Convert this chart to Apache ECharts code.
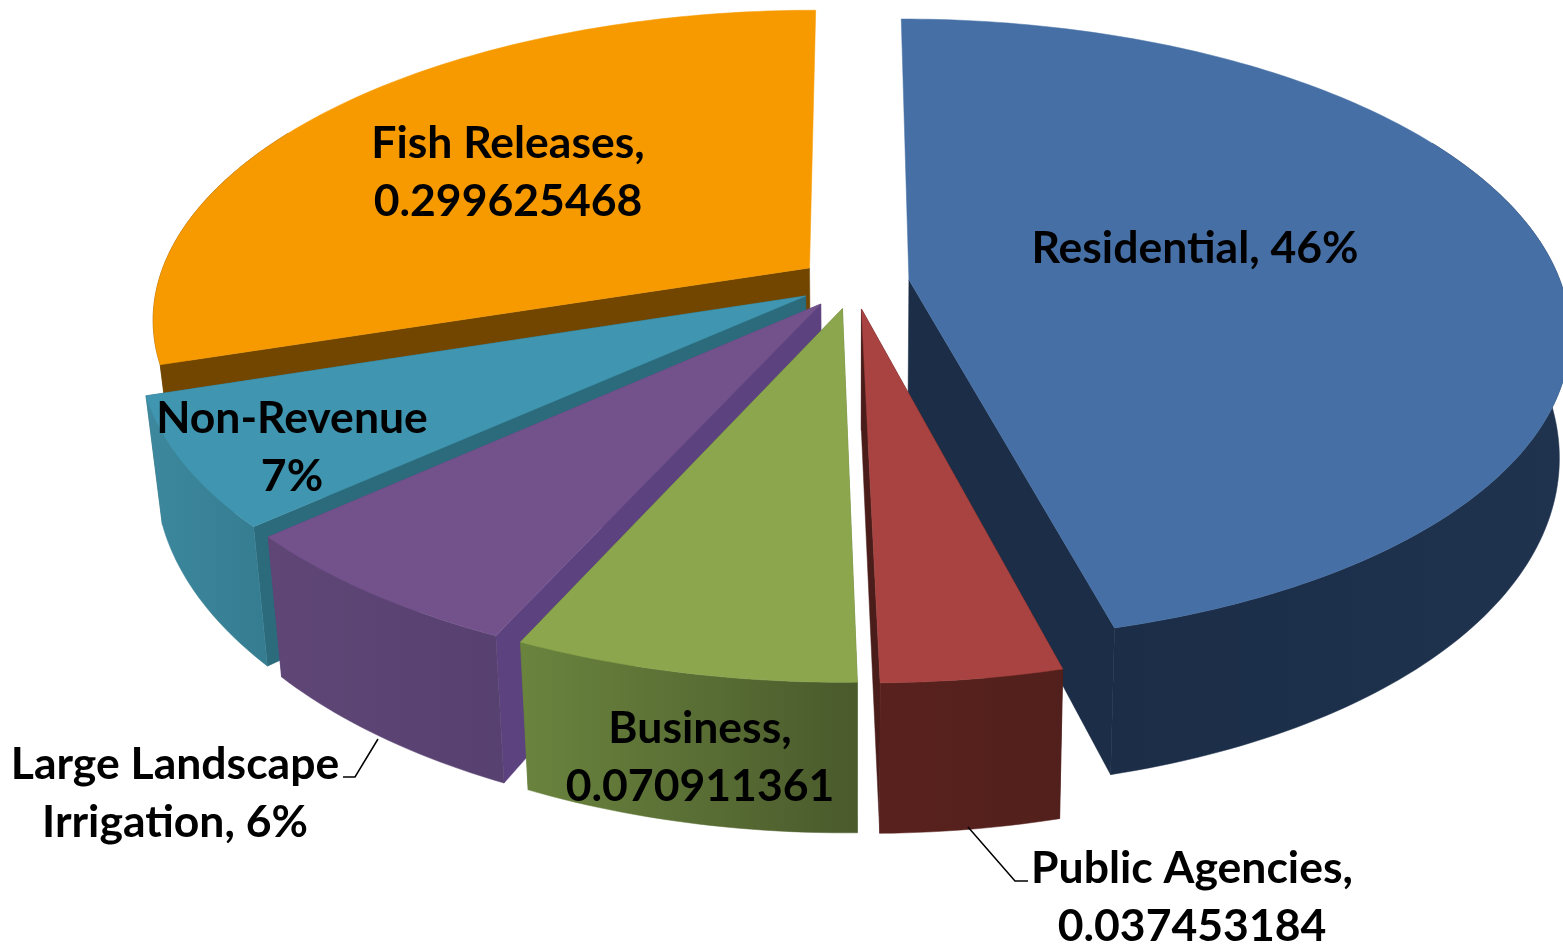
<!DOCTYPE html>
<html>
<head>
<meta charset="utf-8">
<title>Water use by category</title>
<script src="https://cdn.jsdelivr.net/npm/echarts@6/dist/echarts.min.js"></script>
<style>
  html, body { margin: 0; padding: 0; background: #fff; overflow: hidden; }
  #chart { width: 1563px; height: 946px; }
</style>
</head>
<body>
<div id="chart"></div>
<script>
// data, clockwise from 12 o'clock
const categories = ["Residential", "Public Agencies", "Business", "Large Landscape Irrigation", "Non-Revenue", "Fish Releases"];
const shares = [0.46, 0.037453184, 0.070911361, 0.065, 0.0665, 0.299625468];
const labelTexts = [
  "Residential, 46%",
  "Public Agencies,\n0.037453184",
  "Business,\n0.070911361",
  "Large Landscape\nIrrigation, 6%",
  "Non-Revenue\n7%",
  "Fish Releases,\n0.299625468",
];

// colours per slice
const topColors = ["#4670a5", "#a84341", "#8ba64d", "#73528c", "#4096b0", "#f79a00"];
const wallColors = [
  ["#1b2d47", "#1f334f"],
  ["#59211e", "#52201c"],
  ["#6a843e", "#4a5a2c"],
  ["#5f4676", "#574170"],
  ["#3d889e", "#357c90"],
  ["#734600", "#734600"],
];
const cutColors = ["#1b2d47", "#4a1c1a", "#5d7636", "#5c437f", "#2b6b7c", "#734600"];

// label layout
const labelCenters = [[1195, 249], [1192, 898], [700, 758], [175, 794], [292, 448], [508, 173]];
const leaders = {
  1: [[968, 827], [1015, 881], [1028, 881]],
  3: [[343, 777], [355, 777], [378, 739]],
};

// projection of the tilted pie
const CX = 854, CY = 283;
const RX = 652, RY = 304;
const PERSPECTIVE = 0.162;
const FRONT_SHIFT = 5;
const EXPLODE = 0.085;
const DEPTH_BASE = 118, DEPTH_FRONT = 30;
const SHRINK_LEFT = 0.977, SHRINK_RIGHT = 0.985;

const total = shares.reduce((a, b) => a + b, 0);

const project = (u, v) => {
  const s = 1 / (1 - PERSPECTIVE * v);
  const shift = v > 0 ? FRONT_SHIFT * v * v : 0;
  return { x: CX + RX * u * s + shift, y: CY + RY * v * s, v };
};
const drop = (p) => [
  CX + (p.x - CX) * (p.x < CX ? SHRINK_LEFT : SHRINK_RIGHT),
  p.y + DEPTH_BASE + DEPTH_FRONT * p.v,
];
const xy = (p) => [p.x, p.y];

// start and end angle of each slice
let cum = 0;
const slices = shares.map((value, i) => {
  const start = (cum / total) * Math.PI * 2;
  cum += value;
  const end = (cum / total) * Math.PI * 2;
  return { index: i, start, end, mid: (start + end) / 2 };
});

// paint the slices from back to front
const drawOrder = slices.slice().sort((a, b) => Math.cos(b.mid) - Math.cos(a.mid)).map((s) => s.index);

const renderSlice = (params, api) => {
  const s = slices[api.value(0)];
  const ox = EXPLODE * Math.sin(s.mid);
  const oy = -EXPLODE * Math.cos(s.mid);
  const apex = project(ox, oy);
  const rim = [];
  const steps = Math.max(6, Math.ceil((s.end - s.start) / (Math.PI / 180)));
  for (let k = 0; k <= steps; k++) {
    const t = s.start + ((s.end - s.start) * k) / steps;
    rim.push(project(ox + Math.sin(t), oy - Math.cos(t)));
  }
  const first = rim[0];
  const last = rim[rim.length - 1];
  const i = s.index;
  const wall = new echarts.graphic.LinearGradient(0, 0, 1, 0, [
    { offset: 0, color: wallColors[i][0] },
    { offset: 1, color: wallColors[i][1] },
  ]);
  const poly = (points, fill) => ({
    type: "polygon",
    shape: { points },
    style: { fill, stroke: fill, lineWidth: 0.5 },
    silent: true,
  });
  const children = [];
  // faces pointing at the back of the pie stay hidden
  if (Math.cos(s.start) < 0.9) children.push(poly([xy(apex), xy(first), drop(first), drop(apex)], cutColors[i]));
  if (Math.cos(s.end) < 0.9) children.push(poly([xy(apex), xy(last), drop(last), drop(apex)], cutColors[i]));
  const outer = rim.filter((p) => p.v - oy > -0.5);
  children.push(poly(outer.map(xy).concat(outer.slice().reverse().map(drop)), wall));
  children.push(poly([xy(apex)].concat(rim.map(xy)), topColors[i]));
  return { type: "group", children };
};

const renderLabel = (params, api) => {
  const i = api.value(0);
  const children = [{
    type: "text",
    style: {
      text: labelTexts[i],
      x: labelCenters[i][0],
      y: labelCenters[i][1],
      align: "center",
      verticalAlign: "middle",
      font: "bold 44.5px Lato",
      lineHeight: 58,
      fill: "#000",
    },
    silent: true,
  }];
  if (leaders[i]) {
    children.push({
      type: "polyline",
      shape: { points: leaders[i] },
      style: { stroke: "#000", lineWidth: 1.5, fill: null },
      silent: true,
    });
  }
  return { type: "group", children };
};

const chart = echarts.init(document.getElementById("chart"), null, { renderer: "canvas" });
chart.setOption({
  backgroundColor: "#fff",
  animation: false,
  series: [
    {
      type: "custom",
      name: "slices",
      coordinateSystem: "none",
      renderItem: renderSlice,
      data: drawOrder.map((i) => ({ name: categories[i], value: [i, shares[i]] })),
      encode: { value: 1 },
      z: 1,
    },
    {
      type: "custom",
      name: "labels",
      coordinateSystem: "none",
      renderItem: renderLabel,
      data: categories.map((name, i) => ({ name, value: [i, shares[i]] })),
      z: 2,
    },
  ],
});
window.addEventListener("resize", () => chart.resize());
</script>
</body>
</html>
